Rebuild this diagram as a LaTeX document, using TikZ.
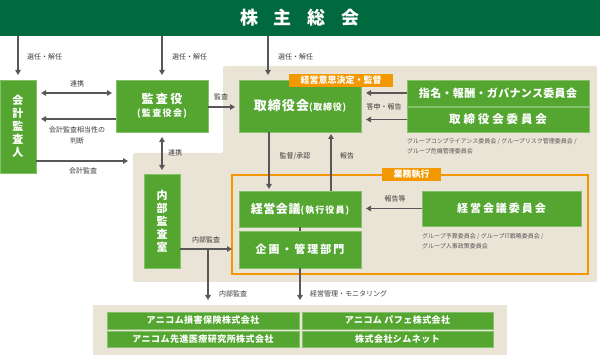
\documentclass[tikz,border=0pt]{standalone}
\usepackage{fontspec}
\setmainfont{Noto Sans CJK JP}
\usetikzlibrary{arrows.meta}
\definecolor{bannerc}{HTML}{00693E}
\definecolor{gfill}{HTML}{54A631}
\definecolor{gedge}{HTML}{85C06A}
\definecolor{beige}{HTML}{EAE4D6}
\definecolor{orng}{HTML}{F39800}
\definecolor{lgray}{HTML}{595757}
\definecolor{ltxt}{HTML}{3E3A39}
\tikzset{
 gbox/.style={fill=gfill, draw=gedge, line width=0.8pt, text=white, inner sep=0pt, outer sep=0pt, align=center},
 otab/.style={fill=orng, text=white, inner sep=0pt, outer sep=0pt, font=\fontsize{9}{10}\selectfont\bfseries},
 conn/.style={draw=lgray, line width=1.3pt},
 arr/.style={conn, -{Triangle[length=5pt,width=5.5pt]}},
 darr/.style={conn, {Triangle[length=5pt,width=5.5pt]}-{Triangle[length=5pt,width=5.5pt]}},
 lbl/.style={text=ltxt, font=\fontsize{7}{11}\selectfont, inner sep=0pt, align=center},
 note/.style={text=lgray, font=\fontsize{6}{10}\selectfont, inner sep=0pt, anchor=west, align=left},
}
\begin{document}
\begin{tikzpicture}[x=1pt,y=-1pt]
\useasboundingbox (0,0) rectangle (600,355);
% backgrounds
\fill[beige, rounded corners=2pt] (223,66) -- (597,66) -- (597,282) -- (133,282) -- (133,153) -- (223,153) -- cycle;
\fill[beige] (93,305) rectangle (507,355);
\node[fill=bannerc, minimum width=600pt, minimum height=36pt, inner sep=0pt, outer sep=0pt, text=white, font=\fontsize{18}{20}\selectfont\bfseries] (banner) at (300,18) {株\hspace{16pt}主\hspace{16pt}総\hspace{16pt}会};
% execution frame
\node[draw=orng, line width=1.2pt, minimum width=356pt, minimum height=99pt, inner sep=0pt, outer sep=0pt] (exec) at (410,224.5) {};
% boxes
\node[gbox, minimum width=36pt, minimum height=93pt, font=\fontsize{11}{13}\selectfont\bfseries] (kaikei) at (18,126.5) {会\\計\\監\\査\\人};
\node[gbox, minimum width=92pt, minimum height=52pt, font=\fontsize{11}{13}\selectfont\bfseries] (kansa) at (162,106) {{\fontsize{12}{14}\selectfont\addfontfeature{LetterSpace=20}監査役}\\{\fontsize{9}{11}\selectfont\addfontfeature{LetterSpace=15}(監査役会)}};
\node[gbox, minimum width=122pt, minimum height=52pt, font=\bfseries] (tori) at (300,106) {{\fontsize{13}{15}\selectfont\addfontfeature{LetterSpace=8}取締役会}{\fontsize{9}{11}\selectfont\addfontfeature{LetterSpace=8}(取締役)}};
\node[gbox, minimum width=182pt, minimum height=26pt, font=\fontsize{11}{13}\selectfont\bfseries\addfontfeature{LetterSpace=3}] (shimei) at (498,93) {指名・報酬・ガバナンス委員会};
\node[gbox, minimum width=182pt, minimum height=25pt, font=\fontsize{11.5}{13}\selectfont\bfseries\addfontfeature{LetterSpace=25}] (torikai) at (498,119.5) {取締役会委員会};
\node[gbox, minimum width=122pt, minimum height=36pt, font=\bfseries] (keiei) at (300,209) {{\fontsize{12}{14}\selectfont\addfontfeature{LetterSpace=5}経営会議}{\fontsize{9}{11}\selectfont\addfontfeature{LetterSpace=12}(執行役員)}};
\node[gbox, minimum width=122pt, minimum height=37pt, font=\fontsize{11}{13}\selectfont\bfseries\addfontfeature{LetterSpace=18}] (kikaku) at (300,249.5) {企画・管理部門};
\node[gbox, minimum width=159pt, minimum height=35pt, font=\fontsize{11}{13}\selectfont\bfseries\addfontfeature{LetterSpace=18}] (keieiI) at (501.5,208.5) {経営会議委員会};
\node[gbox, minimum width=36pt, minimum height=94pt, font=\fontsize{11}{13}\selectfont\bfseries] (naibu) at (162,221) {内\\部\\監\\査\\室};
\node[gbox, minimum width=192pt, minimum height=17pt, font=\fontsize{9}{11}\selectfont\bfseries\addfontfeature{LetterSpace=5}] (c1) at (203,320.5) {アニコム損害保険株式会社};
\node[gbox, minimum width=192pt, minimum height=16pt, font=\fontsize{9}{11}\selectfont\bfseries\addfontfeature{LetterSpace=5}] (c2) at (203,339) {アニコム先進医療研究所株式会社};
\node[gbox, minimum width=191pt, minimum height=17pt, font=\fontsize{9}{11}\selectfont\bfseries\addfontfeature{LetterSpace=5}] (c3) at (397.5,320.5) {アニコム パフェ株式会社};
\node[gbox, minimum width=191pt, minimum height=16pt, font=\fontsize{9}{11}\selectfont\bfseries\addfontfeature{LetterSpace=5}] (c4) at (397.5,339) {株式会社シムネット};
% tabs
\node[otab, minimum width=104pt, minimum height=13pt] (tab1) at (341,80.5) {経営意思決定・監督};
\node[otab, minimum width=59pt, minimum height=13pt] (tab2) at (411.5,174.5) {業務執行};
% named free ends
\coordinate (bgL) at (133,161);
\coordinate (b1) at (208,249);
\coordinate (ia) at (208,300);
\coordinate (km) at (300,300);
% connectors
\draw[arr, shorten >=5pt] (kaikei.north |- banner.south) -- (kaikei.north);
\draw[arr, shorten >=5pt] (kansa.north |- banner.south) -- (kansa.north);
\draw[arr, shorten >=5pt] ([xshift=-32pt]tori.north |- banner.south) -- ([xshift=-32pt]tori.north);
\draw[darr, shorten <=5pt, shorten >=4pt] (kaikei.east |- 0,93) -- (kansa.west |- 0,93);
\draw[arr, shorten >=5pt] (kansa.west |- 0,119) -- (kaikei.east |- 0,119);
\draw[arr, shorten >=4pt] (kansa.east |- 0,107) -- (tori.west |- 0,107);
\draw[arr, shorten >=5pt] (kaikei.east |- bgL) -- (bgL);
\draw[darr, shorten <=5pt, shorten >=4pt] (kansa.south) -- (naibu.north);
\draw[arr, shorten >=2pt] (tori.south -| 269,0) -- (keiei.north -| 269,0);
\draw[arr, shorten >=2pt] (keiei.north -| 331,0) -- (tori.south -| 331,0);
\draw[arr, shorten >=5pt] (shimei.west) -- (tori.east |- shimei.west);
\draw[arr, shorten >=5pt] (torikai.west) -- (tori.east |- torikai.west);
\draw[arr, shorten >=5pt] (keieiI.west) -- (keiei.east |- keieiI.west);
\draw[arr] (naibu.east |- b1) -- (exec.west |- b1);
\draw[arr] (b1) -- (ia);
\draw[conn] (keiei.south) -- (kikaku.north);
\draw[arr] (kikaku.south) -- (km);
% labels
\node[lbl, anchor=west] (l1) at (27,57) {選任・解任};
\node[lbl, anchor=west] (l2) at (172,57) {選任・解任};
\node[lbl, anchor=west] (l3) at (278,57) {選任・解任};
\node[lbl] (l4) at (77,84) {連携};
\node[lbl] (l5) at (77,135.5) {会計監査相当性の\\判断};
\node[lbl] (l6) at (221,97) {監査};
\node[lbl] (l7) at (83,171) {会計監査};
\node[lbl, anchor=west] (l8) at (168,153) {連携};
\node[lbl] (l9) at (295,156) {監督/承認};
\node[lbl] (l10) at (347,156) {報告};
\node[lbl] (l11) at (384,107) {答申・報告};
\node[lbl] (l12) at (395,199) {報告等};
\node[lbl] (l13) at (206,240) {内部監査};
\node[lbl] (l14) at (233,294) {内部監査};
\node[lbl, anchor=west] (l15) at (310,294) {経営管理・モニタリング};
\node[note] (n1) at (407,146) {グループコンプライアンス委員会 / グループリスク管理委員会 /\\グループ危機管理委員会};
\node[note] (n2) at (422,241) {グループ予算委員会 / グループIT戦略委員会 /\\グループ人事政策委員会};
\end{tikzpicture}
\end{document}
